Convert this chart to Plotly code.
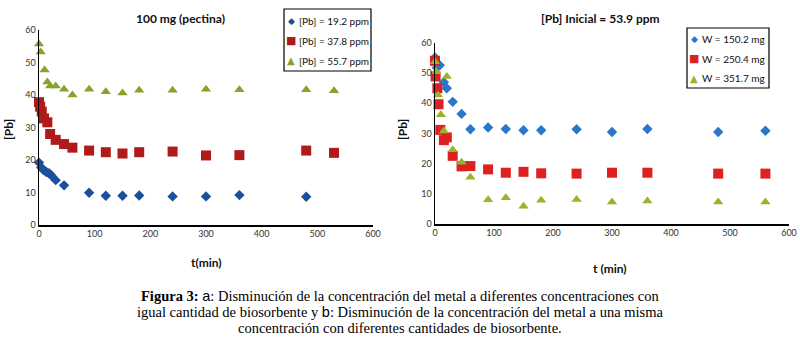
import plotly.graph_objects as go

# ---- Panel a: 100 mg (pectina) ----
t_a_blue = [0, 4, 8, 13, 18, 22, 30, 45, 90, 120, 150, 180, 240, 300, 360, 480]
pb_a_blue = [19.2, 17.7, 16.9, 16.3, 15.9, 15.3, 13.8, 12.2, 9.9, 9.0, 9.0, 9.1, 8.8, 8.8, 9.2, 8.7]

t_a_red = [0, 2, 5, 9, 15, 20, 30, 45, 60, 90, 120, 150, 180, 240, 300, 360, 480, 530]
pb_a_red = [37.8, 36.4, 34.9, 32.8, 31.6, 28.0, 26.2, 24.9, 23.8, 22.9, 22.4, 22.0, 22.4, 22.6, 21.4, 21.5, 22.9, 22.2]

t_a_green = [0, 3, 10, 15, 20, 30, 45, 60, 90, 120, 150, 180, 240, 300, 360, 480, 530]
pb_a_green = [55.7, 53.2, 47.7, 44.0, 42.8, 42.8, 41.8, 40.0, 41.8, 41.0, 40.6, 41.5, 41.5, 41.8, 41.6, 41.6, 41.3]

names_a = ["[Pb] = 19.2 ppm", "[Pb] = 37.8 ppm", "[Pb] = 55.7 ppm"]

# ---- Panel b: [Pb] Inicial = 53.9 ppm ----
t_b_blue = [0, 3, 8, 15, 20, 30, 45, 60, 90, 120, 150, 180, 240, 300, 360, 480, 560]
pb_b_blue = [55.2, 51.8, 52.6, 47.0, 45.0, 40.5, 36.5, 31.4, 32.0, 31.5, 31.1, 31.1, 31.4, 30.5, 31.5, 30.5, 30.9]

t_b_red = [0, 1, 4, 6, 9, 15, 20, 30, 45, 60, 90, 120, 150, 180, 240, 300, 360, 480, 560]
pb_b_red = [54.1, 48.9, 45.0, 39.7, 31.2, 27.8, 28.7, 22.6, 19.1, 19.2, 18.1, 17.0, 17.3, 16.8, 16.7, 17.0, 17.0, 16.7, 16.7]

t_b_green = [0, 2, 5, 10, 15, 20, 30, 45, 60, 90, 120, 150, 180, 240, 300, 360, 480, 560]
pb_b_green = [53.8, 50.5, 42.8, 36.2, 30.8, 48.9, 24.6, 20.5, 15.5, 8.0, 8.7, 5.9, 7.9, 8.1, 7.3, 7.6, 7.3, 7.3]

names_b = ["W = 150.2 mg", "W = 250.4 mg", "W = 351.7 mg"]

x_ticks = [0, 100, 200, 300, 400, 500, 600]
y_ticks = [0, 10, 20, 30, 40, 50, 60]

W, H = 800, 349

def px_x(p):
    return p / W

def px_y(p):
    return 1 - p / H

fig = go.Figure()

sym = ["diamond", "square", "triangle-up"]
glyph = ["◆", "■", "▲"]
size = [8, 10, 9]
cols_a = ["#1b4f9e", "#b01a1a", "#86a32a"]
cols_b = ["#2a76c8", "#dd2020", "#98b32c"]

for i, (tx, yy) in enumerate([(t_a_blue, pb_a_blue), (t_a_red, pb_a_red), (t_a_green, pb_a_green)]):
    fig.add_trace(go.Scatter(x=tx, y=yy, mode="markers", name=names_a[i],
                             marker=dict(symbol=sym[i], size=size[i], color=cols_a[i]),
                             xaxis="x", yaxis="y", cliponaxis=False))

for i, (tx, yy) in enumerate([(t_b_blue, pb_b_blue), (t_b_red, pb_b_red), (t_b_green, pb_b_green)]):
    fig.add_trace(go.Scatter(x=tx, y=yy, mode="markers", name=names_b[i],
                             marker=dict(symbol=sym[i], size=size[i], color=cols_b[i]),
                             xaxis="x2", yaxis="y2", cliponaxis=False))

tickfont = dict(family="Lato, Open Sans, sans-serif", size=9, color="#333333")
axis_common = dict(showgrid=False, zeroline=False, showline=True, linecolor="#000000",
                   linewidth=1.5, ticks="", tickfont=tickfont, fixedrange=True, automargin=False)
title_font = dict(family="Lato, Open Sans, sans-serif", size=12, color="#111111")

fig.update_layout(
    width=W, height=H,
    margin=dict(l=0, r=0, t=0, b=0, autoexpand=False),
    paper_bgcolor="white", plot_bgcolor="white",
    xaxis=dict(domain=[px_x(39), px_x(373)], range=[0, 600], tickvals=x_ticks,
               anchor="y", **axis_common),
    yaxis=dict(domain=[px_y(225), px_y(30)], range=[0, 60], tickvals=y_ticks,
               anchor="x", **axis_common),
    xaxis2=dict(domain=[px_x(435), px_x(789)], range=[0, 600], tickvals=x_ticks,
                anchor="y2", **axis_common),
    yaxis2=dict(domain=[px_y(224), px_y(43)], range=[0, 60], tickvals=y_ticks,
                anchor="x2", **axis_common),
    showlegend=False,
    hovermode=False,
)

shapes = []
ann = []
leg_font = dict(family="Lato, Open Sans, sans-serif", size=10, color="#111111")

def add_legend(box, rows_y, mark_x, text_x, names, cols):
    x0, y0, x1, y1 = box
    shapes.append(dict(type="rect", xref="paper", yref="paper",
                       x0=px_x(x0), x1=px_x(x1), y0=px_y(y1), y1=px_y(y0),
                       line=dict(color="#000000", width=1.2), fillcolor="white", layer="above"))
    for i, ry in enumerate(rows_y):
        gs = [9, 11, 10][i]
        ann.append(dict(text=glyph[i], x=px_x(mark_x), y=px_y(ry), xanchor="center", yanchor="middle",
                        font=dict(family="DejaVu Sans", size=gs, color=cols[i])))
        ann.append(dict(text=names[i], x=px_x(text_x), y=px_y(ry), xanchor="left", yanchor="middle",
                        font=leg_font))

add_legend((284, 9, 371, 71), [20.7, 40.7, 60.7], 291, 297, names_a, cols_a)
add_legend((687, 28, 769, 88), [39.3, 58.8, 78.3], 694, 700, names_b, cols_b)

ann += [
    dict(text="<b>100 mg (pectina)</b>", x=px_x(180), y=px_y(18), font=title_font),
    dict(text="<b>[Pb] Inicial = 53.9 ppm</b>", x=px_x(600), y=px_y(18), font=title_font),
    dict(text="<b>[Pb]</b>", x=px_x(9), y=px_y(130), textangle=-90, font=dict(family="Lato, sans-serif", size=12, color="#111111")),
    dict(text="<b>[Pb]</b>", x=px_x(403), y=px_y(130), textangle=-90, font=dict(family="Lato, sans-serif", size=12, color="#111111")),
    dict(text="<b>t(min)</b>", x=px_x(206), y=px_y(262), font=dict(family="Lato, sans-serif", size=12, color="#111111")),
    dict(text="<b>t (min)</b>", x=px_x(610), y=px_y(268), font=dict(family="Lato, sans-serif", size=12, color="#111111")),
]

sans = "<span style='font-family:Liberation Sans, Arial, sans-serif'>%s</span>"
cap_lines = [
    "<b>Figura 3:</b> " + sans % "a" + ": Disminución de la concentración del metal a diferentes concentraciones con",
    "igual cantidad de biosorbente y " + sans % "b" + ": Disminución de la concentración del metal a una misma",
    "concentración con diferentes cantidades de biosorbente.",
]
for line, ly in zip(cap_lines, [296, 312, 328]):
    ann.append(dict(text=line, x=0.5, y=px_y(ly),
                    font=dict(family="Liberation Serif, Times New Roman, serif", size=14.5, color="#000000")))

for a in ann:
    a.setdefault("xanchor", "center")
    a.setdefault("yanchor", "middle")
    a.update(xref="paper", yref="paper", showarrow=False)

fig.update_layout(annotations=ann, shapes=shapes)

fig.write_html("out.html", config={"displayModeBar": False, "staticPlot": True},
               post_script="document.body.style.margin='0';document.body.style.overflow='hidden';")
